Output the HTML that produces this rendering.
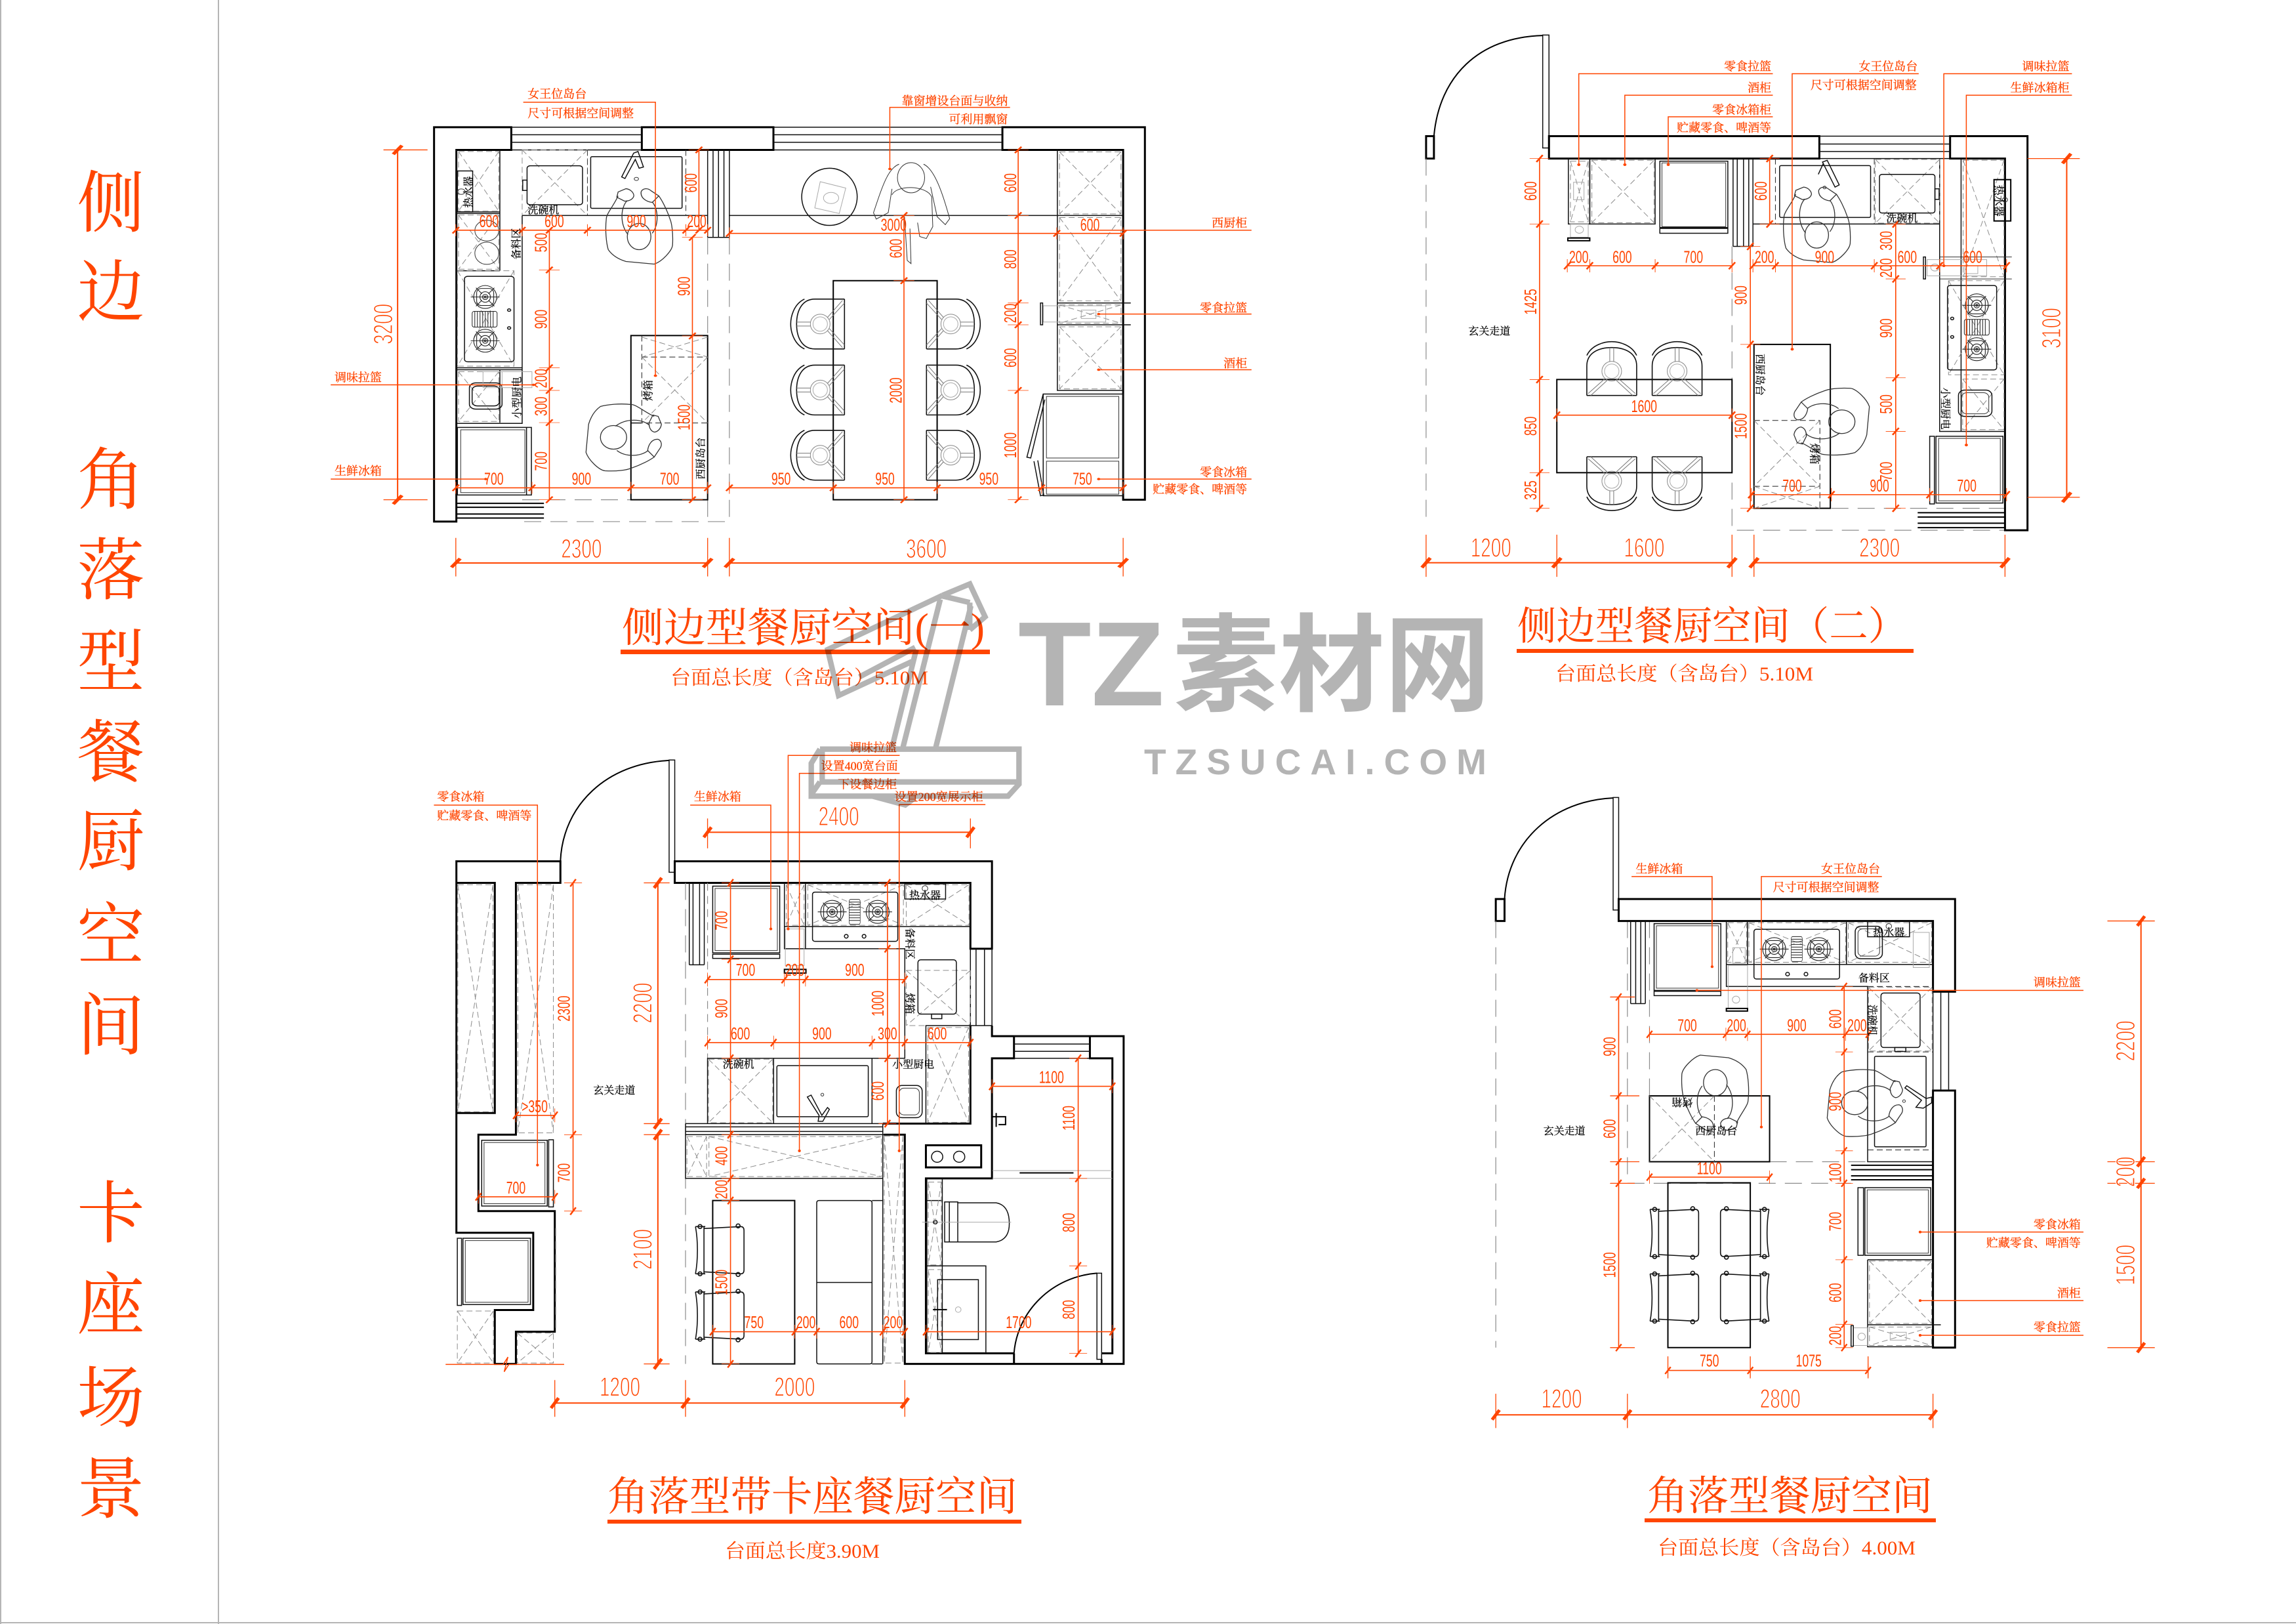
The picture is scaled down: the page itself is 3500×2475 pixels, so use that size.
<!DOCTYPE html>
<html lang="zh"><head><meta charset="utf-8"><title>餐厨空间</title>
<style>
html,body{margin:0;padding:0;background:#fff}
svg{display:block}
text{fill:#ff4500}
.d{font:26px "Liberation Sans",sans-serif;text-anchor:middle}
.D{font:41px "Liberation Sans",sans-serif;text-anchor:middle;stroke:#fff;stroke-width:1.3}
.l{font:18px "Liberation Serif","Noto Serif CJK SC",serif;stroke:#ff4500;stroke-width:.3}
.r{text-anchor:end}
.b{fill:#000;font:16px "Liberation Serif","Noto Serif CJK SC",serif;text-anchor:middle;stroke:#000;stroke-width:.25}
.T{font-family:"Liberation Serif","Noto Serif CJK SC",serif}
.S{font:103px "Noto Serif CJK SC",serif;text-anchor:middle}
.k,.t,.f,.g,.gs,.gl,.o,.h,.v,.L,.e{fill:none;vector-effect:non-scaling-stroke}
.k{stroke:#000;stroke-width:3}
.t{stroke:#111;stroke-width:1.5}
.f{stroke:#333;stroke-width:1}
.g{stroke:#8c8c8c;stroke-width:1;stroke-dasharray:9 5}
.gs{stroke:#aaa;stroke-width:1}
.gl{stroke:#8c8c8c;stroke-width:1.2;stroke-dasharray:26 14}
.o{stroke:#ff4500;stroke-width:1.5}
.e{stroke:#ff4500;stroke-width:1.3}
.h{stroke:#ff4500;stroke-width:1.6;marker:url(#mh)}
.v{stroke:#ff4500;stroke-width:1.6;marker:url(#mv)}
.L{stroke:#ff4500;stroke-width:2;marker:url(#mL)}
</style></head><body>
<svg xmlns="http://www.w3.org/2000/svg" width="3500" height="2475" viewBox="0 0 3500 2475">
<defs>
<marker id="mh" markerUnits="userSpaceOnUse" markerWidth="2" markerHeight="2" orient="0" overflow="visible"><path d="M-6,8L6,-8" stroke="#ff4500" stroke-width="3.5" fill="none"/><path d="M0,-15V15" stroke="#ff4500" stroke-width="1.2" fill="none"/></marker>
<marker id="mv" markerUnits="userSpaceOnUse" markerWidth="2" markerHeight="2" orient="0" overflow="visible"><path d="M-6,8L6,-8" stroke="#ff4500" stroke-width="3.5" fill="none"/><path d="M-19,0H19" stroke="#ff4500" stroke-width="1.2" fill="none"/></marker>
<marker id="mL" markerUnits="userSpaceOnUse" markerWidth="2" markerHeight="2" orient="0" overflow="visible"><path d="M-8,11L8,-11" stroke="#ff4500" stroke-width="7" fill="none"/></marker>
<g id="p" fill="none" stroke="#333" stroke-width="1.3">
<ellipse rx="18" ry="20"/>
<path d="M-32,-62C-38,-48-50,-35-50,-27C-52,-10-50,10-47,20C-40,30-30,35-20,38L23,42C35,38 50,22 51,13C52,-5 50,-20 47,-27C42,-42 35,-55 30,-62"/>
<path d="M-18,-55C-28,-45-30,-20-17,-3M20,-53C30,-40 30,-18 20,-5"/>
<path d="M-32,-68L-20,-73C-12,-72-8,-66-8,-62C-10,-55-18,-54-22,-54L-34,-60ZM3,-68C5,-73 12,-75 18,-70L30,-62L20,-52C12,-53 2,-58 3,-68Z"/>
</g>
<g id="c" fill="none">
<path d="M37,-38H-8C-28,-38-36,-20-36,0C-36,20-28,38-8,38H37" stroke="#111" stroke-width="1.6"/>
<path d="M-24,-38C-41,-30-45,-10-45,0C-45,10-41,30-24,38" stroke="#111" stroke-width="1.6"/>
<path d="M37,-38V38" stroke="#111" stroke-width="1.6"/>
<circle r="15" stroke="#888" stroke-width="1"/><circle r="11" stroke="#aaa" stroke-width="1"/>
<path d="M34,-36L11,-10M37,-32L14,-7M34,36L11,10M37,32L14,7M-36,-3H-15M-36,3H-15" stroke="#777" stroke-width="1"/>
</g>
<g id="s" fill="none" stroke="#111" stroke-width="1.6">
<path d="M-24,-33L32,-36Q37,-36 37,-30V30Q37,36 32,36L-24,33"/>
<path d="M-37,-36H-22M-37,36H-22M-37,-36C-33,-15-33,15-37,36M-24,-36V36"/>
<circle cx="-30" cy="-36" r="3"/><circle cx="-30" cy="36" r="3"/><circle cx="28" cy="-37" r="3"/><circle cx="28" cy="37" r="3"/>
</g>
<g id="bn" fill="none" stroke="#222" stroke-width="1.1">
<circle r="17.5"/><rect x="-13" y="-13" width="26" height="26" rx="7"/><circle r="8"/><circle r="4"/><circle r="1.5"/><path d="M-14,-14L-5,-5M14,-14L5,-5M-14,14L-5,5M14,14L5,5M-22,0H22"/>
</g>
<g id="gr" fill="none" stroke="#222" stroke-width="1">
<rect x="-19" y="-12" width="38" height="24" rx="3"/><path d="M-15,-12V12M-11,-12V12M-7,-12V12M-3,-12V12M1,-12V12M5,-12V12M9,-12V12M13,-12V12"/>
</g>
</defs>
<rect width="3500" height="2475" fill="#fff"/>
<path d="M1,0V2475M333,0V2475M0,2473H3500" stroke="#b5b5b5" stroke-width="2" fill="none"/>

<!-- Side title -->
<g class="S">
<text class="S" x="169" y="345">侧</text><text class="S" x="169" y="481">边</text>
<text class="S" x="169" y="767">角</text><text class="S" x="169" y="905">落</text><text class="S" x="169" y="1044">型</text><text class="S" x="169" y="1182">餐</text><text class="S" x="169" y="1318">厨</text><text class="S" x="169" y="1461">空</text><text class="S" x="169" y="1599">间</text>
<text class="S" x="169" y="1885">卡</text><text class="S" x="169" y="2024">座</text><text class="S" x="169" y="2166">场</text><text class="S" x="169" y="2305">景</text>
</g>

<!-- PLAN 1 -->
<g transform="translate(500,100) scale(.82908,.60587)">
<path class="k" d="M337,155H195V1147H236V212H337ZM1240,155H1502V1092H1462V212H1240ZM577,155H819V212H577Z"/>
<path class="t" d="M337,155H577M337,174H577M337,193H577M337,212H577M819,155H1240M819,174H1240M819,193H1240M819,212H1240"/>
<path class="k" style="stroke-width:2" d="M236,1101H397M236,1111H397M236,1128H397M236,1138H397"/>
<path class="t" d="M236,212V900M357,377V900H236M236,760H357M236,516H316M236,368H316M236,372H316M316,765V898M236,765H357M316,212V516"/>
<path class="g" d="M240,216H314V366H240ZM240,216L314,366M314,216L240,366M240,376H314V512H240ZM240,376L314,512M314,376L240,512M240,770H314V895H240ZM240,770L314,895M314,770L240,895M238,516H342V756H238ZM238,516L342,756M342,516L238,756"/>
<rect class="t" x="238" y="265" width="28" height="103"/>
<circle class="f" cx="245" cy="317" r="7"/>
<ellipse class="f" cx="292" cy="415" rx="22" ry="26"/><ellipse class="f" cx="292" cy="472" rx="22" ry="28"/>
<rect class="t" x="251" y="530" width="91" height="215" rx="6"/>
<use href="#bn" transform="translate(289,582) scale(1.206,1.65)"/><use href="#bn" transform="translate(289,692) scale(1.206,1.65)"/>
<use href="#gr" transform="translate(288,638) scale(1.206,1.65)"/>
<circle class="t" cx="333" cy="615" r="3"/><circle class="t" cx="333" cy="660" r="3"/>
<rect class="t" x="260" y="798" width="60" height="66" rx="12"/><rect class="t" x="265" y="806" width="50" height="50" rx="10"/>
<path class="gs" d="M285,770H375V810H285ZM320,770V810"/>
<rect class="t" x="238" y="910" width="136" height="170"/><rect class="f" x="244" y="916" width="118" height="158"/><path class="t" d="M365,910V1080"/>
<path class="g" d="M357,212H477V377H357ZM357,212L477,377M477,212L357,377"/>
<rect class="t" x="366" y="252" width="102" height="98" rx="6"/><rect class="t" x="358" y="288" width="8" height="26"/>
<rect class="t" x="483" y="229" width="168" height="130" rx="3"/>
<path class="t" d="M540,280L562,220L570,216L580,255L572,258L565,236L546,284Z"/>
<circle class="f" cx="567" cy="285" r="4"/>
<path class="t" d="M357,377H698M737,377H1340"/>
<path class="g" style="stroke:#333" d="M658,212V377M477,212V377"/>
<use href="#p" transform="translate(572,430) scale(1.206,1.65)"/>
<path class="t" d="M698,212V432M708,212V432M718,212V432M728,212V432M738,212V432M698,432H738"/>
<path class="gl" d="M698,432V1147M738,432V1147H357M357,1092H557"/>
<rect class="k" style="stroke-width:2" x="557" y="679" width="141" height="413"/>
<path class="t" d="M557,899H577"/>
<path class="g" style="stroke:#222" d="M577,679V899H698M577,733H698"/>
<path class="g" d="M577,733L698,899M698,733L577,899M577,683L698,733M698,683L577,733"/>
<use href="#p" transform="translate(525,935) scale(1.206,1.65) rotate(90)"/>
<ellipse class="t" cx="922" cy="330" rx="51" ry="72"/>
<path class="gs" d="M905,292L952,308L940,372L895,358Z"/><ellipse class="gs" cx="925" cy="333" rx="14" ry="14"/>
<path class="f" d="M1050,248C1030,258 1020,300 1003,370L1008,386L1030,370L1037,310M1095,248C1115,260 1130,320 1143,385L1135,400L1120,380L1108,305M1037,325C1045,300 1100,300 1110,330L1112,405L1100,435L1088,430L1084,395M1060,380L1065,490L1072,498L1070,410"/>
<ellipse class="f" cx="1072" cy="282" rx="25" ry="38"/>
<rect class="k" style="stroke-width:2" x="929" y="541" width="191" height="551"/>
<use href="#c" transform="translate(905,650) scale(1.206,1.65)"/><use href="#c" transform="translate(905,816) scale(1.206,1.65)"/><use href="#c" transform="translate(905,980) scale(1.206,1.65)"/>
<use href="#c" transform="translate(1145,650) scale(-1.206,1.65)"/><use href="#c" transform="translate(1145,816) scale(-1.206,1.65)"/><use href="#c" transform="translate(1145,980) scale(-1.206,1.65)"/>
<path class="t" d="M1341,212V817H1462M1341,377H1462M1341,597H1476M1341,652H1476"/>
<path class="g" d="M1345,217H1458V373H1345ZM1345,217L1458,373M1458,217L1345,373M1345,382H1458V592H1345ZM1345,382L1458,592M1458,382L1345,592M1345,602H1458V648H1345ZM1345,602L1458,648M1458,602L1345,648M1345,657H1458V813H1345ZM1345,657L1458,813M1458,657L1345,813"/>
<path class="gs" d="M1315,604H1430V645H1315ZM1385,615H1412V636H1385Z"/>
<rect class="t" x="1310" y="597" width="4" height="55"/>
<rect class="t" x="1315" y="826" width="147" height="256"/><rect class="f" x="1321" y="832" width="133" height="155"/><rect class="f" x="1321" y="995" width="133" height="83"/>
<path class="t" d="M1315,826L1285,985L1292,987L1318,840M1298,995L1310,1082L1316,1080L1305,993"/>
<!-- dims -->
<polyline class="h" points="235,414 357,414 477,414 658,414 698,414"/>
<polyline class="h" points="738,422 1340,422 1462,422"/>
<polyline class="h" points="235,1062 375,1062 557,1062 698,1062"/>
<polyline class="h" points="738,1062 929,1062 1120,1062 1312,1062 1462,1062"/>
<polyline class="v" points="407,414 407,514 407,760 407,817 407,898 407,1092"/>
<polyline class="v" points="682,212 682,414"/>
<polyline class="v" points="670,432 670,680 670,1092"/>
<polyline class="v" points="1059,377 1059,541 1059,1092"/>
<polyline class="v" points="1269,212 1269,377 1269,597 1269,652 1269,817 1269,1092"/>
<polyline class="L" points="235,1251 698,1251"/><polyline class="L" points="738,1251 1462,1251"/>
<polyline class="L" points="128,212 128,1092"/>
<path class="e" d="M235,1188V1285M698,1188V1285M738,1188V1285M1462,1188V1285M102,212H183M102,1092H183"/>
<path class="o" d="M359,92H602V780M1254,105H1033V260M5,803H378M5,1040H290M1401,414H1698M1417,625H1698M1417,765H1698M1417,1040H1698"/>
<path d="M602,780h.1M1033,260h.1M378,803h.1M290,1040h.1M1417,625h.1M1417,765h.1M1417,1040h.1" stroke="#ff4500" stroke-width="6" stroke-linecap="round"/>
<!-- digits -->
<text class="d" transform="matrix(.82 0 0 1.65 296 406)">600</text><text class="d" transform="matrix(.82 0 0 1.65 416 406)">600</text><text class="d" transform="matrix(.82 0 0 1.65 567 406)">900</text><text class="d" transform="matrix(.82 0 0 1.65 678 406)">200</text>
<text class="d" transform="matrix(.82 0 0 1.65 1040 415)">3000</text><text class="d" transform="matrix(.82 0 0 1.65 1401 415)">600</text>
<text class="d" transform="matrix(.82 0 0 1.65 305 1054)">700</text><text class="d" transform="matrix(.82 0 0 1.65 466 1054)">900</text><text class="d" transform="matrix(.82 0 0 1.65 628 1054)">700</text>
<text class="d" transform="matrix(.82 0 0 1.65 833 1054)">950</text><text class="d" transform="matrix(.82 0 0 1.65 1024 1054)">950</text><text class="d" transform="matrix(.82 0 0 1.65 1215 1054)">950</text><text class="d" transform="matrix(.82 0 0 1.65 1387 1054)">750</text>
<text class="d" transform="matrix(0 -1.122 1.206 0 402 445)">500</text><text class="d" transform="matrix(0 -1.122 1.206 0 402 638)">900</text><text class="d" transform="matrix(0 -1.122 1.206 0 402 787)">200</text><text class="d" transform="matrix(0 -1.122 1.206 0 402 857)">300</text><text class="d" transform="matrix(0 -1.122 1.206 0 402 995)">700</text>
<text class="d" transform="matrix(0 -1.122 1.206 0 678 295)">600</text>
<text class="d" transform="matrix(0 -1.122 1.206 0 665 555)">900</text><text class="d" transform="matrix(0 -1.122 1.206 0 665 885)">1500</text>
<text class="d" transform="matrix(0 -1.122 1.206 0 1055 460)">600</text><text class="d" transform="matrix(0 -1.122 1.206 0 1055 817)">2000</text>
<text class="d" transform="matrix(0 -1.122 1.206 0 1265 295)">600</text><text class="d" transform="matrix(0 -1.122 1.206 0 1265 487)">800</text><text class="d" transform="matrix(0 -1.122 1.206 0 1265 623)">200</text><text class="d" transform="matrix(0 -1.122 1.206 0 1265 735)">600</text><text class="d" transform="matrix(0 -1.122 1.206 0 1265 955)">1000</text>
<text class="D" transform="matrix(.82 0 0 1.65 466 1238)">2300</text><text class="D" transform="matrix(.82 0 0 1.65 1100 1238)">3600</text>
<text class="D" transform="matrix(0 -1.122 1.206 0 118 650)">3200</text>
<!-- labels -->
<text class="l" transform="matrix(1.206 0 0 1.65 367 82)">女王位岛台</text><text class="l" transform="matrix(1.206 0 0 1.65 367 130)">尺寸可根据空间调整</text>
<text class="l r" transform="matrix(1.206 0 0 1.65 1250 99)">靠窗增设台面与收纳</text><text class="l r" transform="matrix(1.206 0 0 1.65 1250 145)">可利用飘窗</text>
<text class="l" transform="matrix(1.206 0 0 1.65 12 795)">调味拉篮</text><text class="l" transform="matrix(1.206 0 0 1.65 12 1030)">生鲜冰箱</text>
<text class="l r" transform="matrix(1.206 0 0 1.65 1690 406)">西厨柜</text><text class="l r" transform="matrix(1.206 0 0 1.65 1690 620)">零食拉篮</text><text class="l r" transform="matrix(1.206 0 0 1.65 1690 759)">酒柜</text><text class="l r" transform="matrix(1.206 0 0 1.65 1690 1033)">零食冰箱</text><text class="l r" transform="matrix(1.206 0 0 1.65 1690 1076)">贮藏零食、啤酒等</text>
<text class="b" transform="matrix(1.206 0 0 1.65 396 372)">洗碗机</text>
<text class="b" transform="matrix(0 -1.65 1.206 0 265 318)">热水器</text>
<text class="b" transform="matrix(0 -1.65 1.206 0 353 448)">备料区</text>
<text class="b" transform="matrix(0 -1.65 1.206 0 354 835)">小型厨电</text>
<text class="b" transform="matrix(0 -1.65 1.206 0 595 817)">烤箱</text>
<text class="b" transform="matrix(0 -1.65 1.206 0 692 988)">西厨岛台</text>
</g>

<!-- PLAN 2 -->
<g transform="translate(2150,30) scale(.79719,.66964)">
<rect class="t" x="253" y="35" width="12" height="257"/>
<path class="k" style="stroke-width:2" d="M253,36C130,40 55,130 45,265"/>
<rect class="k" x="30" y="265" width="15" height="51"/>
<path class="gl" d="M30,316V1135M615,516V1162H1137M805,1112H1137"/>
<path class="k" d="M265,265H782V316H265ZM1032,265H1180V1162H1137V316H1032Z"/>
<path class="t" d="M782,265H1032M782,283H1032M782,300H1032M782,316H1032"/>
<path class="k" style="stroke-width:2" d="M970,1122H1137M970,1132H1137M970,1146H1137M970,1156H1137"/>
<rect class="t" x="302" y="316" width="41" height="149"/>
<path class="g" d="M306,322H340V460H306ZM306,322L340,460M340,322L306,460M347,320H466V462H347ZM347,320L466,462M466,320L347,462"/>
<path class="t" d="M343,316V465H468V316"/>
<path class="gs" d="M306,465H340V495H306ZM312,370H332V410H312Z"/><circle class="gs" cx="323" cy="478" r="8"/>
<rect class="k" style="stroke-width:2" x="301" y="497" width="42" height="6"/>
<rect class="t" x="477" y="322" width="130" height="151"/><rect class="f" x="481" y="326" width="122" height="145"/><rect class="t" x="477" y="475" width="130" height="11"/>
<path class="t" d="M617,316V516M625,316V516M637,316V516M647,316V516M655,316V516M617,516H655"/>
<path class="t" d="M655,465H1012V937H1137M1012,316V465M1053,316V937"/>
<rect class="t" x="706" y="332" width="174" height="118" rx="3"/>
<path class="t" d="M788,324L797,320L820,376L812,381ZM780,352L790,326"/><circle class="f" cx="792" cy="382" r="3"/>
<path class="g" style="stroke:#222" d="M698,316V465M887,316V465"/>
<path class="g" d="M889,318H1012V463H889ZM889,318L1012,463M1012,318L889,463M1057,320H1135V585H1057ZM1057,320L1135,585M1135,320L1057,585"/>
<rect class="t" x="897" y="352" width="106" height="88" rx="5"/><rect class="t" x="1003" y="385" width="8" height="24"/>
<rect class="k" style="stroke-width:2" x="1116" y="364" width="32" height="94"/>
<circle class="f" cx="1137" cy="410" r="5"/>
<path class="f" d="M1012,540H1150M1012,590H1150"/>
<rect class="t" x="981" y="540" width="4" height="50"/>
<path class="gs" d="M988,546H1102V583H988ZM1060,560H1085V578H1060Z"/><circle class="gs" cx="1003" cy="564" r="8"/>
<path class="g" d="M1029,594H1135V808H1029ZM1029,594L1135,808M1135,594L1029,808M1056,818H1135V933H1056ZM1056,818L1135,933M1135,818L1056,933"/>
<rect class="t" x="1027" y="605" width="94" height="192" rx="5"/>
<use href="#bn" transform="translate(1083,650) scale(1.254,1.493)"/><use href="#bn" transform="translate(1083,750) scale(1.254,1.493)"/>
<use href="#gr" transform="translate(1083,700) scale(1.254,1.493)"/>
<circle class="t" cx="1036" cy="680" r="3"/><circle class="t" cx="1036" cy="722" r="3"/>
<rect class="t" x="1048" y="843" width="64" height="60" rx="12"/><rect class="f" x="1054" y="849" width="52" height="48" rx="10"/>
<rect class="t" x="1005" y="948" width="128" height="152"/><rect class="f" x="1010" y="953" width="118" height="142"/><rect class="t" x="993" y="948" width="9" height="154"/>
<rect class="k" style="stroke-width:2" x="657" y="739" width="146" height="373"/>
<path class="g" style="stroke:#222" d="M657,912H783V1112M657,1062H783"/>
<path class="g" d="M657,912L783,1062M783,912L657,1062M657,1062L783,1112M783,1062L657,1112"/>
<use href="#p" transform="translate(777,490) scale(1.254,1.493)"/>
<use href="#p" transform="translate(825,915) scale(1.254,1.493) rotate(-90)"/>
<rect class="k" style="stroke-width:2" x="280" y="819" width="335" height="212"/>
<use href="#c" transform="translate(385,800) scale(1.254,1.493) rotate(90)"/><use href="#c" transform="translate(510,800) scale(1.254,1.493) rotate(90)"/>
<use href="#c" transform="translate(385,1050) scale(1.254,1.493) rotate(-90)"/><use href="#c" transform="translate(510,1050) scale(1.254,1.493) rotate(-90)"/>
<!-- dims -->
<polyline class="v" points="247,316 247,465 247,819 247,1031 247,1112"/>
<polyline class="v" points="687,316 687,465"/>
<polyline class="v" points="650,516 650,739 650,1112"/>
<polyline class="v" points="928,465 928,590 928,815 928,937 928,1112"/>
<polyline class="h" points="300,560 343,560 468,560 615,560"/>
<polyline class="h" points="655,560 698,560 887,560 1012,560 1140,560"/>
<polyline class="h" points="652,1081 805,1081 993,1081 1140,1081"/>
<polyline class="h" points="280,900 615,900"/>
<polyline class="L" points="30,1236 280,1236 615,1236"/><polyline class="L" points="657,1236 1137,1236"/>
<polyline class="L" points="1255,316 1255,1087"/>
<path class="e" d="M30,1172V1268M280,1172V1268M615,1172V1268M657,1172V1268M1137,1172V1268M1180,316H1280M1180,1087H1280"/>
<path class="o" d="M693,123H322V330M693,172H410V330M693,221H493V330M972,123H730V750M1265,123H1020V560M1265,172H1063V968"/>
<path d="M322,330h.1M410,330h.1M493,330h.1M730,750h.1M1020,560h.1M1063,968h.1" stroke="#ff4500" stroke-width="6" stroke-linecap="round"/>
<text class="d" transform="matrix(0 -1.015 1.254 0 241 390)">600</text><text class="d" transform="matrix(0 -1.015 1.254 0 241 642)">1425</text><text class="d" transform="matrix(0 -1.015 1.254 0 241 925)">850</text><text class="d" transform="matrix(0 -1.015 1.254 0 241 1071)">325</text>
<text class="d" transform="matrix(0 -1.015 1.254 0 681 390)">600</text>
<text class="d" transform="matrix(0 -1.015 1.254 0 643 627)">900</text><text class="d" transform="matrix(0 -1.015 1.254 0 643 925)">1500</text>
<text class="d" transform="matrix(0 -1.015 1.254 0 921 503)">300</text><text class="d" transform="matrix(0 -1.015 1.254 0 921 565)">200</text><text class="d" transform="matrix(0 -1.015 1.254 0 921 702)">900</text><text class="d" transform="matrix(0 -1.015 1.254 0 921 875)">500</text><text class="d" transform="matrix(0 -1.015 1.254 0 921 1028)">700</text>
<text class="d" transform="matrix(.853 0 0 1.493 322 553)">200</text><text class="d" transform="matrix(.853 0 0 1.493 405 553)">600</text><text class="d" transform="matrix(.853 0 0 1.493 541 553)">700</text>
<text class="d" transform="matrix(.853 0 0 1.493 677 553)">200</text><text class="d" transform="matrix(.853 0 0 1.493 792 553)">900</text><text class="d" transform="matrix(.853 0 0 1.493 950 553)">600</text><text class="d" transform="matrix(.853 0 0 1.493 1075 553)">600</text>
<text class="d" transform="matrix(.853 0 0 1.493 730 1074)">700</text><text class="d" transform="matrix(.853 0 0 1.493 897 1074)">900</text><text class="d" transform="matrix(.853 0 0 1.493 1064 1074)">700</text>
<text class="d" transform="matrix(.853 0 0 1.493 447 893)">1600</text>
<text class="D" transform="matrix(.853 0 0 1.493 154 1222)">1200</text><text class="D" transform="matrix(.853 0 0 1.493 447 1222)">1600</text><text class="D" transform="matrix(.853 0 0 1.493 897 1222)">2300</text>
<text class="D" transform="matrix(0 -1.015 1.254 0 1243 702)">3100</text>
<text class="l r" transform="matrix(1.254 0 0 1.493 690 116)">零食拉篮</text><text class="l r" transform="matrix(1.254 0 0 1.493 690 164)">酒柜</text><text class="l r" transform="matrix(1.254 0 0 1.493 690 214)">零食冰箱柜</text><text class="l r" transform="matrix(1.254 0 0 1.493 690 255)">贮藏零食、啤酒等</text>
<text class="l r" transform="matrix(1.254 0 0 1.493 970 116)">女王位岛台</text><text class="l r" transform="matrix(1.254 0 0 1.493 968 158)">尺寸可根据空间调整</text>
<text class="l r" transform="matrix(1.254 0 0 1.493 1260 116)">调味拉篮</text><text class="l r" transform="matrix(1.254 0 0 1.493 1260 164)">生鲜冰箱柜</text>
<text class="b" transform="matrix(1.254 0 0 1.493 151 717)">玄关走道</text>
<text class="b" transform="matrix(1.254 0 0 1.493 940 460)">洗碗机</text>
<text class="b" transform="matrix(0 1.493 -1.254 0 1118 412)">热水器</text>
<text class="b" transform="matrix(0 1.493 -1.254 0 662 808)">西厨岛台</text>
<text class="b" transform="matrix(0 1.493 -1.254 0 766 988)">烤箱</text>
<text class="b" transform="matrix(0 1.493 -1.254 0 1016 885)">小型厨电</text>
</g>

<!-- PLAN 3 -->
<g transform="translate(640,1100) scale(.71429,.70153)">
<rect class="t" x="532" y="83" width="12" height="244"/>
<path class="k" style="stroke-width:2" d="M532,84C400,90 305,180 300,303"/>
<path class="k" d="M544,303H1221V493H1175V350H544ZM78,303H300V350H205V897H125V1063H288V1325H205V1395H160V1278H242V1110H78ZM78,350H160V850H78"/>
<path class="t" d="M1175,493V660H1221V493M1187,493V660M1205,493V660"/>
<path class="k" d="M1221,660V683H1268V731H1221V992H1080V1372H1268M1268,683H1502V1395H1035V897H990M1430,683V731H1478V1372H1455M1175,660V873H988"/>
<path class="t" d="M1268,683H1430M1268,700H1430M1268,716H1430M1268,731H1430"/>
<path class="g" d="M81,354H156V847H81ZM81,354L156,847M156,354L81,847M209,354H285V893H209ZM209,354L285,893M285,354L209,893M80,1280H157V1393H80ZM80,1280L157,1393M157,1280L80,1393M208,1328H285V1393H208ZM208,1328L285,1393M285,1328L208,1393"/>
<rect class="t" x="132" y="909" width="140" height="143"/><rect class="f" x="137" y="914" width="130" height="133"/><rect class="t" x="275" y="908" width="10" height="146"/>
<rect class="t" x="92" y="1122" width="144" height="144"/><rect class="f" x="97" y="1127" width="134" height="134"/><rect class="t" x="80" y="1122" width="9" height="146"/>
<path class="o" d="M55,1396H178L188,1380L180,1412L190,1396H308"/>
<path class="gl" d="M567,350V1395"/><path class="gl" style="stroke-dasharray:12 8" d="M290,1100V1325M614,350V731"/>
<path class="t" d="M575,350V528M583,350V528M597,350V528M607,350V528M575,528H607"/>
<rect class="t" x="625" y="357" width="143" height="145"/><rect class="f" x="630" y="362" width="133" height="135"/><rect class="t" x="625" y="505" width="143" height="9"/>
<path class="t" d="M778,350V493H1035V731H614V873M778,445H1175M823,350V493M1175,350V445"/>
<path class="g" d="M782,354H820V442H782ZM782,354L820,442M820,354L782,442M828,354H1032V442H828ZM828,354L1032,442M1032,354L828,442M1038,354H1172V442H1038ZM1038,354L1172,442M1172,354L1038,442"/>
<path class="gs" d="M780,450H820V530H780Z"/><rect class="k" style="stroke-width:2" x="778" y="538" width="46" height="8"/>
<rect class="t" x="838" y="370" width="182" height="107" rx="5"/>
<use href="#bn" transform="translate(880,413) scale(1.4,1.4255)"/><use href="#bn" transform="translate(977,413) scale(1.4,1.4255)"/>
<use href="#gr" transform="translate(928,413) scale(1.4,1.4255) rotate(90) scale(1,.7)"/>
<circle class="t" cx="910" cy="466" r="4"/><circle class="t" cx="948" cy="466" r="4"/>
<rect class="t" x="1035" y="352" width="87" height="33"/><circle class="f" cx="1078" cy="362" r="6"/>
<path class="g" d="M1038,540H1175V660H1038ZM1038,540L1175,660M1175,540L1038,660"/>
<rect class="t" x="1063" y="517" width="82" height="118" rx="6"/><rect class="t" x="1092" y="635" width="22" height="10"/>
<rect class="t" x="1080" y="660" width="95" height="213"/>
<path class="g" d="M1084,664H1171V870H1084ZM1084,664L1171,870M1171,664L1084,870"/>
<rect class="t" x="1017" y="790" width="55" height="70" rx="12"/><rect class="f" x="1023" y="796" width="43" height="58" rx="10"/>
<path class="g" d="M616,733H753V871H616ZM616,733L753,871M753,733L616,871"/>
<path class="t" d="M755,731V873M965,731V873"/>
<rect class="t" x="762" y="747" width="195" height="111" rx="3"/>
<path class="t" d="M827,815L835,811L858,855L870,838L874,842L860,868H850L852,855Z"/><circle class="f" cx="859" cy="810" r="3"/>
<path class="t" d="M567,873H988M567,880H988M567,890H988M567,897H1035M567,873V992H988M988,873V1395"/>
<path class="g" d="M617,901H985V988H617ZM617,901L985,988M985,901L617,988M570,901H612V988H570ZM570,901L612,988M612,901L570,988M991,900H1031V1393H991ZM991,900L1031,1393M1031,900L991,1393"/>
<rect class="k" style="stroke-width:2" x="625" y="1040" width="175" height="355"/>
<path class="t" d="M852,1040H960Q965,1040 965,1045V1390Q965,1395 960,1395H852Q847,1395 847,1390V1045Q847,1040 852,1040ZM847,1218H965M965,1040H987M965,1395H987"/>
<use href="#s" transform="translate(640,1148) scale(1.4,1.4255)"/><use href="#s" transform="translate(640,1290) scale(1.4,1.4255)"/>
<rect class="k" x="1080" y="920" width="118" height="48"/>
<circle class="t" cx="1104" cy="945" r="12"/><circle class="t" cx="1151" cy="945" r="12"/>
<path class="k" style="stroke-width:2" d="M1222,858H1250V875H1235M1230,850V880M1280,980H1395"/>
<path class="gs" d="M1222,975H1478M1222,992H1478"/>
<path class="t" d="M1082,992V1372H1115V992M1082,1040H1115M1082,1182H1208V1372M1120,1043H1148V1130H1120ZM1130,1043V1130M1148,1045H1230Q1258,1050 1258,1090Q1258,1125 1230,1130H1148"/>
<path class="gs" d="M1072,1087H1262"/><circle class="t" cx="1100" cy="1087" r="4"/>
<path class="g" d="M1085,1000H1113V1180H1085ZM1085,1000L1113,1180M1113,1000L1085,1180M1085,1190H1113V1370H1085ZM1085,1190L1113,1370M1113,1190L1085,1370"/>
<rect class="t" x="1105" y="1212" width="87" height="130"/><circle class="gs" cx="1149" cy="1277" r="6"/>
<path class="k" style="stroke-width:2" d="M1095,1277H1125"/>
<rect class="t" x="1445" y="1198" width="10" height="187"/>
<path class="k" style="stroke-width:2" d="M1445,1198C1350,1205 1275,1280 1268,1372"/>
<path class="k" d="M1268,1372V1395M1455,1385V1395"/>
<!-- dims -->
<polyline class="L" points="614,240 1175,240"/>
<polyline class="L" points="508,350 508,873"/><polyline class="L" points="508,897 508,1395"/>
<polyline class="L" points="288,1480 567,1480 1035,1480"/>
<path class="e" d="M614,210V275M1175,210V275M478,350H533M478,873H533M478,897H533M478,1395H533M288,1430V1510M567,1430V1510M1035,1430V1510"/>
<polyline class="v" points="327,350 327,897 327,1063"/>
<polyline class="v" points="663,350 663,516 663,731 663,897 663,992 663,1040 663,1395"/>
<polyline class="v" points="998,350 998,493 998,731 998,873"/>
<polyline class="v" points="1405,731 1405,992 1405,1182 1405,1372"/>
<polyline class="h" points="614,560 778,560 823,560 1035,560"/>
<polyline class="h" points="614,697 755,697 965,697 1035,697 1175,697"/>
<polyline class="h" points="205,855 288,855"/><polyline class="h" points="125,1032 288,1032"/>
<polyline class="h" points="625,1325 800,1325 847,1325 988,1325 1035,1325"/><polyline class="h" points="1080,1325 1478,1325"/>
<polyline class="h" points="1221,792 1478,792"/>
<path class="o" d="M30,181H251V963M577,181H749V450M1024,73H786V450M1024,112H810V932M1207,180H1023V932"/>
<path d="M251,963h.1M749,450h.1M786,450h.1M810,932h.1M1023,932h.1" stroke="#ff4500" stroke-width="6" stroke-linecap="round"/>
<text class="D" transform="matrix(.952 0 0 1.4255 894 225)">2400</text><text class="D" transform="matrix(.952 0 0 1.4255 427 1465)">1200</text><text class="D" transform="matrix(.952 0 0 1.4255 800 1465)">2000</text>
<text class="D" transform="matrix(0 -.969 1.4 0 495 611)">2200</text><text class="D" transform="matrix(0 -.969 1.4 0 495 1146)">2100</text>
<text class="d" transform="matrix(0 -.969 1.4 0 320 623)">2300</text><text class="d" transform="matrix(0 -.969 1.4 0 320 980)">700</text>
<text class="d" transform="matrix(0 -.969 1.4 0 656 432)">700</text><text class="d" transform="matrix(0 -.969 1.4 0 656 623)">900</text><text class="d" transform="matrix(0 -.969 1.4 0 656 943)">400</text><text class="d" transform="matrix(0 -.969 1.4 0 656 1016)">200</text><text class="d" transform="matrix(0 -.969 1.4 0 656 1218)">1500</text>
<text class="d" transform="matrix(0 -.969 1.4 0 990 612)">1000</text><text class="d" transform="matrix(0 -.969 1.4 0 990 802)">600</text>
<text class="d" transform="matrix(0 -.969 1.4 0 1397 861)">1100</text><text class="d" transform="matrix(0 -.969 1.4 0 1397 1088)">800</text><text class="d" transform="matrix(0 -.969 1.4 0 1397 1277)">800</text>
<text class="d" transform="matrix(.952 0 0 1.4255 695 552)">700</text><text class="d" transform="matrix(.952 0 0 1.4255 800 552)">200</text><text class="d" transform="matrix(.952 0 0 1.4255 928 552)">900</text>
<text class="d" transform="matrix(.952 0 0 1.4255 684 690)">600</text><text class="d" transform="matrix(.952 0 0 1.4255 858 690)">900</text><text class="d" transform="matrix(.952 0 0 1.4255 998 690)">300</text><text class="d" transform="matrix(.952 0 0 1.4255 1104 690)">600</text>
<text class="d" transform="matrix(.952 0 0 1.4255 245 848)">&gt;350</text><text class="d" transform="matrix(.952 0 0 1.4255 205 1025)">700</text>
<text class="d" transform="matrix(.952 0 0 1.4255 713 1317)">750</text><text class="d" transform="matrix(.952 0 0 1.4255 824 1317)">200</text><text class="d" transform="matrix(.952 0 0 1.4255 916 1317)">600</text><text class="d" transform="matrix(.952 0 0 1.4255 1010 1317)">200</text><text class="d" transform="matrix(.952 0 0 1.4255 1278 1317)">1700</text>
<text class="d" transform="matrix(.952 0 0 1.4255 1348 785)">1100</text>
<text class="l" transform="matrix(1.4 0 0 1.4255 37 172)">零食冰箱</text><text class="l" transform="matrix(1.4 0 0 1.4255 37 213)">贮藏零食、啤酒等</text>
<text class="l" transform="matrix(1.4 0 0 1.4255 585 172)">生鲜冰箱</text>
<text class="l r" transform="matrix(1.4 0 0 1.4255 1018 65)">调味拉篮</text><text class="l r" transform="matrix(1.4 0 0 1.4255 1020 105)">设置400宽台面</text><text class="l r" transform="matrix(1.4 0 0 1.4255 1018 145)">下设餐边柜</text><text class="l r" transform="matrix(1.4 0 0 1.4255 1202 172)">设置200宽展示柜</text>
<text class="b" transform="matrix(1.4 0 0 1.4255 415 808)">玄关走道</text><text class="b" transform="matrix(1.4 0 0 1.4255 680 752)">洗碗机</text><text class="b" transform="matrix(1.4 0 0 1.4255 1053 752)">小型厨电</text><text class="b" transform="matrix(1.4 0 0 1.4255 1078 385)">热水器</text>
<text class="b" transform="matrix(0 1.4255 -1.4 0 1038 482)">备料区</text><text class="b" transform="matrix(0 1.4255 -1.4 0 1038 612)">烤箱</text>
</g>

<!-- PLAN 4 -->
<g transform="translate(2250,1200) scale(.70153,.66964)">
<rect class="t" x="298" y="23" width="12" height="256"/>
<path class="k" style="stroke-width:2" d="M298,24C170,30 70,120 62,254"/>
<rect class="k" x="43" y="254" width="19" height="50"/>
<path class="gl" d="M43,304V1275M329,304V901M377,304V702M329,901H815M638,852H851"/>
<path class="k" d="M310,254H1041V465H993V304H310ZM993,690H1041V1275H993Z"/>
<path class="t" d="M993,465V690M1010,465V690M1027,465V690"/>
<path class="t" d="M336,304V492M347,304V492M358,304V492M368,304V492M336,492H368"/>
<rect class="t" x="387" y="310" width="145" height="152"/><rect class="f" x="392" y="315" width="135" height="142"/><rect class="t" x="387" y="464" width="145" height="10"/>
<path class="t" d="M544,304V453H851V852H993M544,403H993M590,304V403M805,304V403"/>
<path class="g" d="M547,308H588V398H547ZM547,308L588,398M588,308L547,398M593,308H803V398H593ZM593,308L803,398M803,308L593,398M809,308H990V398H809ZM809,308L990,398M990,308L809,398M853,455H991V600H853ZM853,455L991,600M991,455L853,600"/>
<path class="g" style="stroke:#222" d="M851,453H993M851,602H993M851,825H993"/>
<path class="gs" d="M548,405H590V503H548ZM558,365H585V400H558ZM950,330H985V410H950Z"/><circle class="gs" cx="565" cy="483" r="8"/>
<rect class="k" style="stroke-width:2" x="544" y="503" width="46" height="6"/>
<rect class="t" x="604" y="323" width="186" height="113" rx="5"/>
<use href="#bn" transform="translate(648,368) scale(1.4255,1.493)"/><use href="#bn" transform="translate(745,368) scale(1.4255,1.493)"/>
<use href="#gr" transform="translate(697,368) scale(1.4255,1.493) rotate(90) scale(1,.7)"/>
<circle class="t" cx="677" cy="425" r="4"/><circle class="t" cx="717" cy="425" r="4"/>
<rect class="t" x="824" y="316" width="59" height="74" rx="12"/><rect class="f" x="830" y="322" width="47" height="62" rx="10"/>
<path class="t" d="M851,304V340H942V304"/><circle class="f" cx="897" cy="316" r="6"/>
<rect class="t" x="880" y="468" width="85" height="124" rx="6"/><rect class="t" x="910" y="592" width="24" height="9"/>
<rect class="t" x="866" y="612" width="112" height="206" rx="3"/>
<path class="t" d="M932,684L936,679L978,708L990,705L990,718L972,730L956,728L968,712Z"/><circle class="f" cx="930" cy="714" r="3"/>
<path class="k" style="stroke-width:2" d="M815,860H993M815,870H993M815,884H993M815,893H993"/>
<rect class="t" x="845" y="911" width="143" height="154"/><rect class="f" x="850" y="916" width="133" height="144"/><rect class="t" x="830" y="911" width="12" height="154"/>
<path class="g" d="M855,1078H990V1220H855ZM855,1078L990,1220M990,1078L855,1220M855,1228H990V1270H855ZM855,1228L990,1270M990,1228L855,1270"/>
<path class="t" d="M851,1075H993M851,1075V1273H993M851,1223H1010"/>
<path class="gs" d="M820,1230H851V1270H820ZM900,1240H935V1258H900Z"/><circle class="gs" cx="838" cy="1250" r="8"/>
<rect class="t" x="815" y="1225" width="5" height="47"/>
<rect class="k" style="stroke-width:2" x="377" y="702" width="261" height="150"/>
<path class="g" style="stroke:#222" d="M518,702V852"/>
<path class="g" d="M377,702L518,852M518,702L377,852"/>
<use href="#p" transform="translate(520,672) scale(1.4255,1.493) rotate(180)"/>
<use href="#p" transform="translate(823,718) scale(1.4255,1.493) rotate(90)"/>
<rect class="k" style="stroke-width:2" x="417" y="900" width="179" height="375"/>
<use href="#s" transform="translate(431,1014) scale(1.4255,1.493)"/><use href="#s" transform="translate(431,1161) scale(1.4255,1.493)"/>
<use href="#s" transform="translate(584,1014) scale(-1.4255,1.493)"/><use href="#s" transform="translate(584,1161) scale(-1.4255,1.493)"/>
<!-- dims -->
<polyline class="L" points="43,1428 329,1428 993,1428"/>
<polyline class="L" points="1445,304 1445,852 1445,901 1445,1275"/>
<path class="e" d="M43,1380V1458M329,1380V1458M993,1380V1458M1372,304H1475M1372,852H1475M1372,901H1475M1372,1275H1475M292,477H345M292,702H355M292,852H355M292,901H345M292,1275H345"/>
<polyline class="v" points="310,477 310,702 310,852 310,901 310,1275"/>
<polyline class="v" points="800,453 800,602 800,827 800,901 800,1075 800,1222 800,1275"/>
<polyline class="h" points="377,562 543,562 590,562 803,562 853,562"/>
<polyline class="h" points="377,887 638,887"/>
<polyline class="h" points="417,1327 596,1327 852,1327"/>
<path class="e" d="M417,1295V1345M596,1295V1345M852,1295V1345"/>
<path class="o" d="M338,203H513V408M882,203H620V773M480,462H1320M965,1012H1320M965,1168H1320M965,1247H1320"/>
<path d="M513,408h.1M620,773h.1M480,462h.1M965,1012h.1M965,1168h.1M965,1247h.1" stroke="#ff4500" stroke-width="6" stroke-linecap="round"/>
<text class="D" transform="matrix(.969 0 0 1.493 186 1412)">1200</text><text class="D" transform="matrix(.969 0 0 1.493 661 1412)">2800</text>
<text class="D" transform="matrix(0 -1.015 1.4255 0 1431 577)">2200</text><text class="D" transform="matrix(0 -1.015 1.4255 0 1431 875)">200</text><text class="D" transform="matrix(0 -1.015 1.4255 0 1431 1087)">1500</text>
<text class="d" transform="matrix(0 -1.015 1.4255 0 303 590)">900</text><text class="d" transform="matrix(0 -1.015 1.4255 0 303 777)">600</text><text class="d" transform="matrix(0 -1.015 1.4255 0 303 1087)">1500</text>
<text class="d" transform="matrix(0 -1.015 1.4255 0 793 527)">600</text><text class="d" transform="matrix(0 -1.015 1.4255 0 793 715)">900</text><text class="d" transform="matrix(0 -1.015 1.4255 0 793 877)">100</text><text class="d" transform="matrix(0 -1.015 1.4255 0 793 988)">700</text><text class="d" transform="matrix(0 -1.015 1.4255 0 793 1150)">600</text><text class="d" transform="matrix(0 -1.015 1.4255 0 793 1248)">200</text>
<text class="d" transform="matrix(.969 0 0 1.493 459 555)">700</text><text class="d" transform="matrix(.969 0 0 1.493 566 555)">200</text><text class="d" transform="matrix(.969 0 0 1.493 697 555)">900</text><text class="d" transform="matrix(.969 0 0 1.493 828 555)">200</text>
<text class="d" transform="matrix(.969 0 0 1.493 507 880)">1100</text><text class="d" transform="matrix(.969 0 0 1.493 507 1318)">750</text><text class="d" transform="matrix(.969 0 0 1.493 723 1318)">1075</text>
<text class="l" transform="matrix(1.4255 0 0 1.493 347 195)">生鲜冰箱</text>
<text class="l r" transform="matrix(1.4255 0 0 1.493 878 195)">女王位岛台</text><text class="l r" transform="matrix(1.4255 0 0 1.493 876 237)">尺寸可根据空间调整</text>
<text class="l r" transform="matrix(1.4255 0 0 1.493 1314 453)">调味拉篮</text><text class="l r" transform="matrix(1.4255 0 0 1.493 1314 1004)">零食冰箱</text><text class="l r" transform="matrix(1.4255 0 0 1.493 1314 1046)">贮藏零食、啤酒等</text><text class="l r" transform="matrix(1.4255 0 0 1.493 1314 1160)">酒柜</text><text class="l r" transform="matrix(1.4255 0 0 1.493 1314 1238)">零食拉篮</text>
<text class="b" transform="matrix(1.4255 0 0 1.493 192 790)">玄关走道</text><text class="b" transform="matrix(1.4255 0 0 1.493 865 442)">备料区</text><text class="b" transform="matrix(1.4255 0 0 1.493 897 338)">热水器</text><text class="b" transform="matrix(1.4255 0 0 1.493 522 790)">西厨岛台</text>
<text class="b" transform="matrix(0 1.493 -1.4255 0 853 530)">洗碗机</text>
<text class="b" transform="matrix(-1.4255 0 0 -1.493 448 708)">烤箱</text>
</g>

<!-- Titles -->
<g class="T">
<text class="T" x="948" y="978" font-size="62" textLength="553" lengthAdjust="spacingAndGlyphs">侧边型餐厨空间(一)</text>
<rect x="946" y="990" width="563" height="7" fill="#ff4500"/>
<text class="T" x="1022" y="1043" font-size="30" textLength="393" lengthAdjust="spacingAndGlyphs">台面总长度（含岛台）5.10M</text>
<text class="T" x="2313" y="975" font-size="60" textLength="594" lengthAdjust="spacingAndGlyphs">侧边型餐厨空间（二）</text>
<rect x="2312" y="989" width="605" height="6" fill="#ff4500"/>
<text class="T" x="2371" y="1037" font-size="30" textLength="393" lengthAdjust="spacingAndGlyphs">台面总长度（含岛台）5.10M</text>
<text class="T" x="926" y="2302" font-size="62" textLength="625" lengthAdjust="spacingAndGlyphs">角落型带卡座餐厨空间</text>
<rect x="926" y="2316" width="631" height="6" fill="#ff4500"/>
<text class="T" x="1105" y="2374" font-size="30" textLength="236" lengthAdjust="spacingAndGlyphs">台面总长度3.90M</text>
<text class="T" x="2511" y="2301" font-size="62" textLength="435" lengthAdjust="spacingAndGlyphs">角落型餐厨空间</text>
<rect x="2507" y="2314" width="444" height="6" fill="#ff4500"/>
<text class="T" x="2527" y="2369" font-size="30" textLength="393" lengthAdjust="spacingAndGlyphs">台面总长度（含岛台）4.00M</text>
</g>

<!-- Watermark -->
<g style="mix-blend-mode:multiply">
<g transform="translate(1230,880) scale(.33333)">
<path fill="none" stroke="#b4b4b4" stroke-width="25" d="M620,82L745,30L815,180L745,240M620,85L745,115M745,115L745,240M620,82L95,330L145,540L480,385M240,455L495,320M500,330L390,775M610,100L440,775M750,130L590,775M60,785H970V945L920,1000H20V850L60,785M70,790V935M60,935H970M60,935L25,985M300,1000L450,1040L490,1010"/>
</g>
<text x="1552" y="1075" font-family="Liberation Sans,sans-serif" font-weight="700" font-size="183" style="fill:#b4b4b4" textLength="223" lengthAdjust="spacingAndGlyphs">TZ</text>
<text x="1788" y="1071" font-family="Noto Sans CJK SC,sans-serif" font-weight="700" font-size="162" style="fill:#b4b4b4" textLength="484" lengthAdjust="spacingAndGlyphs">素材网</text>
<text x="1744" y="1180" font-family="Liberation Sans,sans-serif" font-weight="700" font-size="55" style="fill:#b4b4b4" textLength="522">TZSUCAI.COM</text>
</g>
</svg>
</body></html>
